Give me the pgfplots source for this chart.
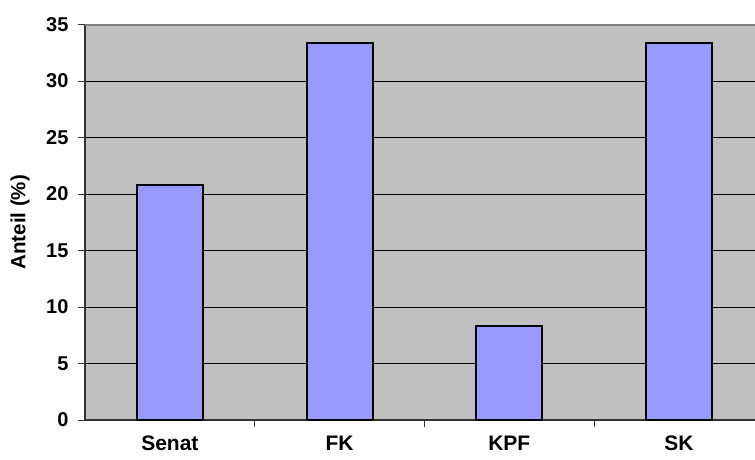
\documentclass[border=0pt]{standalone}
\usepackage{pgfplots}
\pgfplotsset{compat=1.18}
\usepackage{fontspec}
\setmainfont{Liberation Sans}
\definecolor{plotgray}{HTML}{C0C0C0}
\definecolor{barblue}{HTML}{9999FF}
\definecolor{bordergray}{HTML}{808080}
\begin{document}
\begin{tikzpicture}
\begin{axis}[
  at={(0,0)}, anchor=south west,
  scale only axis,
  width=670pt, height=395.5pt,
  xmin=-0.5, xmax=3.448, ymin=0, ymax=35,
  /pgf/number format/assume math mode=true,
  axis background/.style={fill=plotgray},
  axis x line=bottom, axis y line=left,
  axis line style={-, draw=black!80, line width=1.5pt},
  ytick={0,5,...,35},
  ymajorgrids,
  major grid style={black, line width=0.8pt},
  tick align=outside,
  major tick length=7pt,
  tick style={black!80, line width=1pt},
  xtick={0.5,1.5,2.5},
  xticklabels={},
  extra x ticks={0,1,2,3},
  extra x tick labels={Senat,FK,KPF,SK},
  extra x tick style={major tick length=0pt, xticklabel style={yshift=-15pt, inner sep=1pt}},
  xticklabel style={font=\fontsize{21}{24}\selectfont\bfseries},
  yticklabel style={font=\fontsize{20}{24}\selectfont\bfseries, xshift=-6pt},
  ylabel={Anteil (\%)},
  ylabel style={font=\fontsize{20.5}{24}\selectfont\bfseries, at={(axis description cs:0,0.5)}, anchor=center, yshift=65pt},
  after end axis/.code={\draw[bordergray, line width=2pt] (rel axis cs:0,1) -- (rel axis cs:1,1);},
]
\addplot[ybar, bar width=66pt, fill=barblue, draw=black, line width=2pt] coordinates {(0,20.83) (1,33.33) (2,8.33) (3,33.33)};
\end{axis}
\pgfresetboundingbox
\path (-85pt,-39pt) rectangle (670pt,420pt);
\end{tikzpicture}
\end{document}
